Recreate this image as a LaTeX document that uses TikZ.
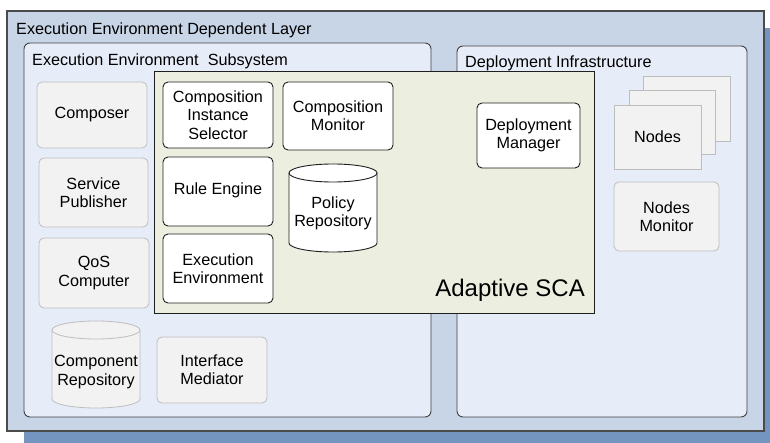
\documentclass[tikz,border=0pt]{standalone}
\usepackage{fontspec}
\setmainfont{Liberation Sans}
\definecolor{shadowblue}{HTML}{7395C0}
\definecolor{layerfill}{HTML}{C8D5E6}
\definecolor{subfill}{HTML}{E7EDF8}
\definecolor{scafill}{HTML}{ECEFDF}
\definecolor{grayfill}{HTML}{F2F2F2}
\definecolor{grayline}{HTML}{BDBDBD}
\definecolor{darkline}{HTML}{1E1E1E}
\begin{document}
\begin{tikzpicture}[x=1pt,y=-1pt,
  lbl/.style={font=\fontsize{16.2}{18.3}\selectfont, align=center, inner sep=0pt},
  graybox/.style={draw=grayline, fill=grayfill, rounded corners=5pt, line width=0.8pt},
  whitebox/.style={draw=darkline, fill=white, rounded corners=5pt, line width=0.9pt},
  container/.style={draw=darkline!85, fill=subfill, rounded corners=6pt, line width=0.9pt},
  cyl/.style={draw=darkline, fill=white, line width=0.9pt}]
\useasboundingbox (0,0) rectangle (770,443);

% drop shadow and outer layer
\fill[shadowblue] (24,28) rectangle (790,460);
\draw[fill=layerfill, draw=darkline!80, line width=1.2pt] (7,11) rectangle (764,431);
\node[lbl, anchor=west] (layerT) at (16,30) {Execution Environment Dependent Layer};

% subsystem and infrastructure containers
\draw[container] (24,43) rectangle (431,417);
\node[lbl, anchor=west] (subT) at (32,61) {Execution Environment\ \ Subsystem};
\draw[container] (457,46) rectangle (747,417);
\node[lbl, anchor=west] (infT) at (465,63) {Deployment Infrastructure};

% adaptive SCA panel
\draw[fill=scafill, draw=darkline, line width=1pt] (154,72) rectangle (594,313);
\node[font=\fontsize{24}{26}\selectfont, anchor=east, inner sep=0pt] (sca) at (585,290) {Adaptive SCA};

% gray components of the subsystem
\draw[graybox] (37,82) rectangle (147,148);
\node[lbl] (composer) at (92,115) {Composer};
\draw[graybox] (39,158) rectangle (148,227);
\node[lbl] (publisher) at (93.5,192.5) {Service\\Publisher};
\draw[graybox] (39,238) rectangle (149,308);
\node[lbl] (qos) at (94,273) {QoS\\Computer};
\draw[graybox] (157,337) rectangle (267,403);
\node[lbl] (mediator) at (212,370) {Interface\\Mediator};

% component repository cylinder (y axis points down)
\draw[graybox, rounded corners=0pt] (52,330) -- (52,399) arc[start angle=180, end angle=0, x radius=44, y radius=9] -- (140,330) arc[start angle=360, end angle=180, x radius=44, y radius=9] -- cycle;
\draw[grayline, line width=0.8pt] (52,330) arc[start angle=180, end angle=0, x radius=44, y radius=9];
\node[lbl] (comprepo) at (96,372) {Component\\Repository};

% adaptive SCA components
\draw[whitebox] (163,82) rectangle (273,148);
\node[lbl] (selector) at (218,115) {Composition\\Instance\\Selector};
\draw[whitebox] (283,82) rectangle (393,150);
\node[lbl] (compmon) at (338,116) {Composition\\Monitor};
\draw[whitebox] (163,157) rectangle (273,226);
\node[lbl] (rules) at (218,190) {Rule Engine};
\draw[whitebox] (163,234) rectangle (273,303);
\node[lbl] (execenv) at (218,268.5) {Execution\\Environment};
\draw[whitebox] (477,103) rectangle (580,168);
\node[lbl] (deploy) at (528.5,135.5) {Deployment\\Manager};

% policy repository cylinder
\draw[cyl] (289,173) -- (289,243) arc[start angle=180, end angle=0, x radius=44, y radius=9] -- (377,173) arc[start angle=360, end angle=180, x radius=44, y radius=9] -- cycle;
\draw[darkline, line width=0.9pt] (289,173) arc[start angle=180, end angle=0, x radius=44, y radius=9];
\node[lbl] (policy) at (333,213) {Policy\\Repository};

% stacked nodes
\draw[graybox, rounded corners=0pt] (643,76) rectangle (730,141);
\draw[graybox, rounded corners=0pt] (629,90) rectangle (715,154);
\draw[graybox, rounded corners=0pt] (614,105) rectangle (701,169);
\node[lbl] (nodes) at (657.5,137) {Nodes};
\draw[graybox] (614,182) rectangle (719,251);
\node[lbl] (nodesmon) at (666.5,216.5) {Nodes\\Monitor};
\end{tikzpicture}
\end{document}
